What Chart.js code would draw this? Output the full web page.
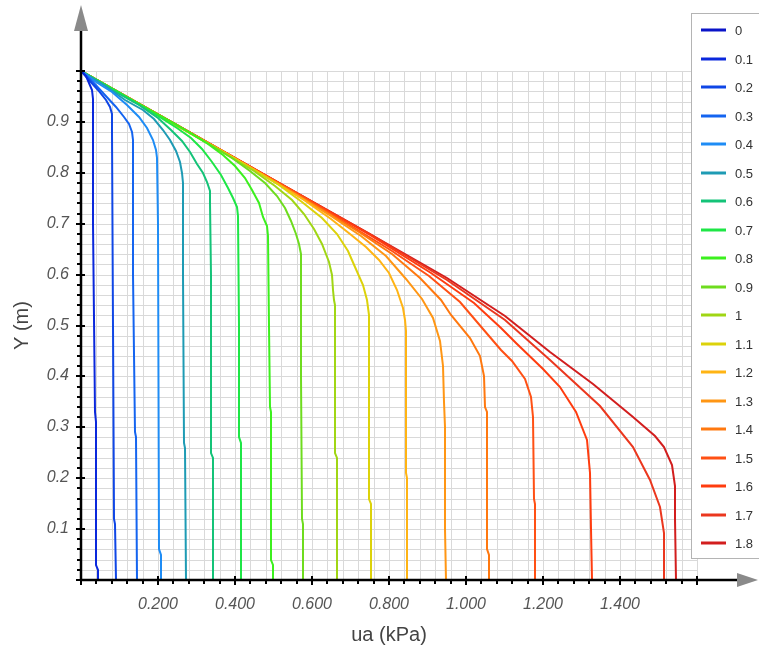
<!DOCTYPE html>
<html lang="en">
<head>
<meta charset="UTF-8">
<title>ua profiles</title>
<script src="https://cdn.jsdelivr.net/npm/chart.js"></script>
<style>
  html, body { margin: 0; padding: 0; background: #fff; }
  #wrap { width: 759px; height: 650px; }
</style>
</head>
<body>
<div id="wrap"><canvas id="uaChart" width="759" height="650"></canvas></div>
<script>
// series labels (legend)
const seriesNames = ['0', '0.1', '0.2', '0.3', '0.4', '0.5', '0.6', '0.7', '0.8', '0.9',
                     '1', '1.1', '1.2', '1.3', '1.4', '1.5', '1.6', '1.7', '1.8'];

// each curve: [ua (kPa), Y (m)]
const c00 = [[0, 1], [0, 0]];
const c01 = [[0, 1], [0.012, 0.99], [0.022, 0.977], [0.028, 0.962], [0.030, 0.945], [0.030, 0.9], [0.032, 0.7], [0.037, 0.33], [0.039, 0.31], [0.040, 0.03], [0.043, 0.02], [0.043, 0]];
const c02 = [[0, 1], [0.02, 0.982], [0.045, 0.962], [0.065, 0.943], [0.076, 0.929], [0.080, 0.915], [0.081, 0.88], [0.084, 0.5], [0.085, 0.12], [0.089, 0.11], [0.090, 0]];
const c03 = [[0, 1], [0.03, 0.978], [0.06, 0.955], [0.09, 0.93], [0.112, 0.91], [0.125, 0.895], [0.132, 0.88], [0.135, 0.865], [0.136, 0.6], [0.139, 0.29], [0.143, 0.28], [0.145, 0]];
const c04 = [[0, 1], [0.04, 0.978], [0.08, 0.958], [0.12, 0.934], [0.15, 0.91], [0.172, 0.888], [0.187, 0.865], [0.195, 0.845], [0.198, 0.83], [0.199, 0.7], [0.203, 0.06], [0.207, 0.05], [0.208, 0]];
const c05 = [[0, 1], [0.06, 0.972], [0.115, 0.944], [0.16, 0.924], [0.19, 0.905], [0.214, 0.885], [0.232, 0.865], [0.247, 0.843], [0.257, 0.822], [0.263, 0.8], [0.265, 0.78], [0.266, 0.6], [0.267, 0.27], [0.271, 0.26], [0.272, 0]];
const c06 = [[0, 1], [0.08, 0.963], [0.15, 0.933], [0.2, 0.908], [0.235, 0.885], [0.262, 0.862], [0.283, 0.84], [0.302, 0.818], [0.318, 0.799], [0.328, 0.782], [0.334, 0.765], [0.336, 0.74], [0.337, 0.6], [0.338, 0.25], [0.342, 0.24], [0.342, 0]];
const c07 = [[0, 1], [0.1, 0.956], [0.2, 0.912], [0.25, 0.888], [0.285, 0.868], [0.315, 0.846], [0.341, 0.822], [0.363, 0.796], [0.382, 0.771], [0.396, 0.75], [0.405, 0.733], [0.409, 0.715], [0.411, 0.5], [0.411, 0.28], [0.416, 0.27], [0.416, 0]];
const c08 = [[0, 1], [0.12, 0.949], [0.25, 0.893], [0.33, 0.857], [0.37, 0.835], [0.40, 0.813], [0.425, 0.79], [0.445, 0.766], [0.462, 0.74], [0.474, 0.714], [0.483, 0.695], [0.487, 0.675], [0.489, 0.5], [0.491, 0.34], [0.494, 0.33], [0.494, 0.04], [0.498, 0.03], [0.498, 0]];
const c09 = [[0, 1], [0.15, 0.936], [0.285, 0.8775], [0.392, 0.8285], [0.439, 0.804], [0.478, 0.779], [0.508, 0.755], [0.53, 0.73], [0.546, 0.705], [0.559, 0.68], [0.567, 0.66], [0.571, 0.64], [0.572, 0.4], [0.573, 0.12], [0.577, 0.11], [0.577, 0]];
const c10 = [[0, 1], [0.2, 0.914], [0.327, 0.859], [0.45, 0.803], [0.504, 0.775], [0.549, 0.747], [0.58, 0.719], [0.605, 0.69], [0.625, 0.66], [0.643, 0.625], [0.652, 0.6], [0.655, 0.57], [0.656, 0.55], [0.660, 0.54], [0.660, 0.25], [0.664, 0.24], [0.664, 0]];
const c11 = [[0, 1], [0.2, 0.914], [0.3725, 0.84], [0.513, 0.776], [0.575, 0.7435], [0.626, 0.7115], [0.6655, 0.679], [0.693, 0.647], [0.712, 0.615], [0.733, 0.58], [0.744, 0.55], [0.747, 0.52], [0.747, 0.16], [0.753, 0.15], [0.753, 0]];
const c12 = [[0, 1], [0.2, 0.914], [0.421, 0.819], [0.58, 0.746], [0.649, 0.71], [0.70, 0.68], [0.74, 0.655], [0.775, 0.628], [0.8, 0.603], [0.822, 0.57], [0.836, 0.535], [0.842, 0.51], [0.844, 0.49], [0.844, 0.21], [0.848, 0.2], [0.848, 0]];
const c13 = [[0, 1], [0.2, 0.914], [0.471, 0.797], [0.649, 0.716], [0.727, 0.676], [0.792, 0.636], [0.845, 0.592], [0.885, 0.552], [0.913, 0.515], [0.932, 0.47], [0.941, 0.42], [0.944, 0.35], [0.945, 0.3], [0.946, 0.1], [0.948, 0]];
const c14 = [[0, 1], [0.25, 0.893], [0.524, 0.775], [0.7215, 0.6845], [0.808, 0.64], [0.88, 0.594], [0.935, 0.55], [0.962, 0.52], [1.01, 0.476], [1.036, 0.44], [1.047, 0.4], [1.050, 0.34], [1.054, 0.33], [1.055, 0.06], [1.060, 0.05], [1.060, 0]];
const c15 = [[0, 1], [0.25, 0.893], [0.586, 0.748], [0.807, 0.647], [0.904, 0.597], [0.985, 0.546], [1.045, 0.493], [1.09, 0.452], [1.12, 0.43], [1.152, 0.395], [1.168, 0.36], [1.174, 0.32], [1.176, 0.16], [1.179, 0.15], [1.180, 0]];
const c16 = [[0, 1], [0.25, 0.893], [0.5, 0.786], [0.75, 0.678], [0.91, 0.604], [1.02, 0.545], [1.09, 0.495], [1.131, 0.465], [1.2, 0.415], [1.244, 0.38], [1.287, 0.33], [1.313, 0.275], [1.322, 0.21], [1.325, 0.1], [1.327, 0]];
const c17 = [[0, 1], [0.25, 0.893], [0.5, 0.786], [0.75, 0.679], [0.95, 0.59], [1.1, 0.51], [1.218, 0.432], [1.348, 0.341], [1.435, 0.262], [1.478, 0.196], [1.504, 0.144], [1.513, 0.092], [1.514, 0]];
const c18 = [[0, 1], [0.25, 0.893], [0.5, 0.786], [0.75, 0.68], [0.95, 0.593], [1.1, 0.518], [1.218, 0.447], [1.331, 0.386], [1.435, 0.321], [1.49, 0.283], [1.513, 0.262], [1.534, 0.225], [1.542, 0.185], [1.544, 0.12], [1.545, 0]];

const curves = [c00, c01, c02, c03, c04, c05, c06, c07, c08, c09, c10, c11, c12, c13, c14, c15, c16, c17, c18];

const xTickLabels = ['0.200', '0.400', '0.600', '0.800', '1.000', '1.200', '1.400'];
const yTickLabels = ['0.1', '0.2', '0.3', '0.4', '0.5', '0.6', '0.7', '0.8', '0.9'];

const lineColors = ['#0a14c8', '#0a28dc', '#0f46e6', '#1464f0', '#1e8cf5', '#1e9bb4', '#14c378',
                    '#1ee646', '#3cf01e', '#6edc1e', '#a0d614', '#dcd20a', '#ffb414', '#ff9614',
                    '#ff780f', '#ff5014', '#ff3c0f', '#eb371e', '#d21e1e'];

const FONT = 'Liberation Sans, Arial, sans-serif';

function isStep(v, step) {
  const n = v / step;
  return Math.abs(n - Math.round(n)) < 1e-6;
}

// axes with arrows and tick marks, drawn over the curves
const axisDecor = {
  id: 'axisDecor',
  afterDatasetsDraw(chart) {
    const { ctx, scales: { x, y } } = chart;
    const x0 = Math.round(x.getPixelForValue(0));
    const y0 = Math.round(y.getPixelForValue(0));
    ctx.save();
    ctx.strokeStyle = '#000';
    ctx.lineWidth = 2.5;
    ctx.beginPath();
    ctx.moveTo(x0, y0 + 1); ctx.lineTo(x0, 28);
    ctx.moveTo(x0 - 1, y0); ctx.lineTo(740, y0);
    ctx.stroke();

    ctx.lineWidth = 2;
    x.ticks.forEach(t => {
      const px = Math.round(x.getPixelForValue(t.value));
      ctx.beginPath();
      if (isStep(t.value, 0.2)) { ctx.moveTo(px, y0 - 4); ctx.lineTo(px, y0 + 5); }
      else { ctx.moveTo(px, y0); ctx.lineTo(px, y0 + 4); }
      ctx.stroke();
    });
    y.ticks.forEach(t => {
      const py = Math.round(y.getPixelForValue(t.value));
      ctx.beginPath();
      if (isStep(t.value, 0.1)) { ctx.moveTo(x0 - 5, py); ctx.lineTo(x0 + 4, py); }
      else { ctx.moveTo(x0 - 4, py); ctx.lineTo(x0, py); }
      ctx.stroke();
    });

    // arrow heads
    ctx.fillStyle = '#8a8a8a';
    ctx.beginPath();
    ctx.moveTo(x0, 5); ctx.lineTo(x0 - 7, 31); ctx.lineTo(x0 + 7, 31); ctx.closePath();
    ctx.fill();
    ctx.beginPath();
    ctx.moveTo(758, y0); ctx.lineTo(737, y0 - 7); ctx.lineTo(737, y0 + 7); ctx.closePath();
    ctx.fill();
    ctx.restore();
  }
};

// boxed legend on the right
const boxLegend = {
  id: 'boxLegend',
  afterDraw(chart) {
    const { ctx } = chart;
    ctx.save();
    ctx.fillStyle = '#fff';
    ctx.fillRect(691, 13, 80, 545);
    ctx.strokeStyle = '#b4b4b4';
    ctx.lineWidth = 1;
    ctx.strokeRect(691.5, 13.5, 80, 545);
    ctx.font = '13px ' + FONT;
    ctx.textBaseline = 'middle';
    ctx.fillStyle = '#333';
    chart.data.datasets.forEach((ds, i) => {
      const ly = Math.round(30 + i * 28.5);
      ctx.strokeStyle = ds.borderColor;
      ctx.lineWidth = 3;
      ctx.beginPath();
      ctx.moveTo(701, ly); ctx.lineTo(726, ly);
      ctx.stroke();
      ctx.fillText(ds.label, 735, ly + 1);
    });
    ctx.restore();
  }
};

new Chart(document.getElementById('uaChart'), {
  type: 'scatter',
  data: {
    datasets: curves.map((pts, i) => ({
      label: seriesNames[i],
      data: pts.map(p => ({ x: p[0], y: p[1] })),
      showLine: true,
      borderColor: lineColors[i],
      backgroundColor: lineColors[i],
      borderWidth: 2,
      pointRadius: 0,
      tension: 0
    }))
  },
  options: {
    responsive: false,
    animation: false,
    layout: { padding: { left: 0, top: 71, right: 62, bottom: 0 } },
    plugins: { legend: { display: false }, tooltip: { enabled: false } },
    scales: {
      x: {
        type: 'linear', min: 0, max: 1.6,
        alignToPixels: true,
        afterFit: s => { s.height = 70; },
        border: { display: false },
        grid: { color: '#d9d9d9', lineWidth: 1, drawTicks: false },
        ticks: {
          stepSize: 0.04, autoSkip: false, maxRotation: 0, padding: 15,
          color: '#555', font: { family: FONT, size: 16, style: 'italic' },
          callback: v => { const s = v.toFixed(3); return xTickLabels.includes(s) ? s : ''; }
        },
        title: { display: true, text: 'ua (kPa)', color: '#444', padding: { top: 0, bottom: 3 },
                 font: { family: FONT, size: 20 } }
      },
      y: {
        type: 'linear', min: 0, max: 1,
        alignToPixels: true,
        afterFit: s => { s.width = 81; },
        border: { display: false },
        grid: { color: '#d9d9d9', lineWidth: 1, drawTicks: false },
        ticks: {
          stepSize: 0.02, autoSkip: false, padding: 12,
          color: '#555', font: { family: FONT, size: 16, style: 'italic' },
          callback: v => {
            if (!isStep(v, 0.1)) return '';
            const s = v.toFixed(1);
            return yTickLabels.includes(s) ? s : '';
          }
        },
        title: { display: true, text: 'Y (m)', color: '#444', padding: { top: 10, bottom: 0 },
                 font: { family: FONT, size: 20 } }
      }
    }
  },
  plugins: [axisDecor, boxLegend]
});
</script>
</body>
</html>
